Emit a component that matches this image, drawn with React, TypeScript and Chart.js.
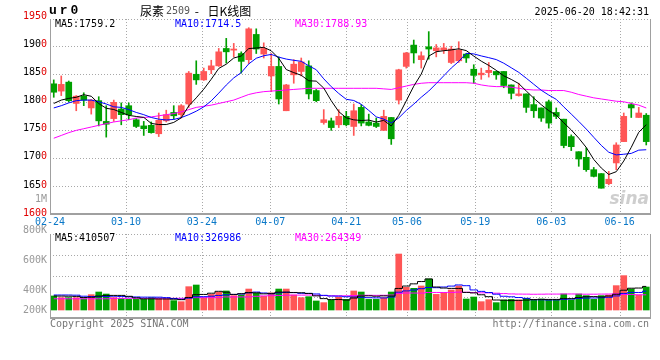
import React, { useEffect, useRef } from "react";
import { Chart, registerables } from "chart.js";

Chart.register(...registerables);

// ---------------- data ----------------
const dates = [
  "02-24","02-25","02-26","02-27","02-28",
  "03-03","03-04","03-05","03-06","03-07",
  "03-10","03-11","03-12","03-13","03-14",
  "03-17","03-18","03-19","03-20","03-21",
  "03-24","03-25","03-26","03-27","03-28",
  "03-31","04-01","04-02","04-03",
  "04-07","04-08","04-09","04-10","04-11",
  "04-14","04-15","04-16","04-17","04-18",
  "04-21","04-22","04-23","04-24","04-25",
  "04-28","04-29","04-30",
  "05-06","05-07","05-08","05-09",
  "05-12","05-13","05-14","05-15","05-16",
  "05-19","05-20","05-21","05-22","05-23",
  "05-26","05-27","05-28","05-29","05-30",
  "06-03","06-04","06-05","06-06",
  "06-09","06-10","06-11","06-12","06-13",
  "06-16","06-17","06-18","06-19","06-20",
];

const opens = [
  1832,1819,1835,1797,1810,1789,1802,1765,1770,1787,
  1793,1768,1757,1758,1743,1766,1781,1777,1796,1849,
  1839,1857,1864,1895,1892,1886,1875,1920,1885,1846,
  1863,1784,1848,1854,1864,1820,1763,1766,1759,1774,
  1756,1790,1764,1762,1749,1772,1803,1863,1901,1875,
  1898,1891,1892,1870,1873,1885,1858,1848,1852,1854,
  1854,1830,1811,1814,1795,1789,1800,1781,1769,1738,
  1711,1701,1679,1672,1654,1691,1729,1795,1772,1776,
];
const highs = [
  1839,1846,1837,1811,1816,1804,1809,1793,1803,1798,
  1798,1770,1765,1764,1780,1785,1793,1795,1854,1873,
  1860,1874,1895,1913,1904,1889,1932,1930,1905,1886,
  1880,1831,1875,1878,1873,1822,1786,1771,1786,1783,
  1796,1795,1778,1771,1785,1772,1858,1888,1910,1889,
  1925,1902,1904,1899,1907,1886,1866,1860,1870,1854,
  1854,1830,1833,1814,1809,1789,1803,1789,1769,1741,
  1711,1718,1683,1672,1676,1727,1780,1798,1790,1779,
];
const lows = [
  1808,1811,1800,1784,1793,1778,1757,1737,1765,1759,
  1768,1754,1740,1744,1738,1764,1769,1771,1790,1831,
  1838,1850,1863,1869,1880,1851,1868,1886,1878,1818,
  1796,1784,1833,1846,1805,1800,1760,1749,1754,1757,
  1740,1757,1757,1754,1749,1724,1796,1860,1869,1860,
  1876,1880,1886,1868,1870,1870,1833,1840,1844,1840,
  1825,1805,1810,1781,1772,1765,1753,1770,1718,1713,
  1685,1676,1666,1646,1652,1679,1729,1772,1772,1723,
];
const closes = [
  1817,1831,1802,1810,1803,1803,1766,1760,1799,1777,
  1777,1756,1752,1745,1767,1777,1775,1793,1851,1839,
  1854,1864,1889,1889,1894,1872,1930,1894,1895,1863,
  1805,1830,1867,1871,1814,1802,1768,1754,1774,1759,
  1784,1762,1758,1756,1774,1734,1857,1887,1887,1882,
  1894,1896,1896,1894,1892,1878,1847,1851,1856,1848,
  1829,1815,1814,1790,1784,1771,1762,1774,1722,1720,
  1698,1679,1667,1646,1662,1723,1774,1789,1780,1729,
];

const ma5 = [
  1797,1803,1806,1808,1812.6,1809.8,1796.8,1788.4,1786.2,1781,
  1775.8,1773.8,1772.2,1761.4,1759.4,1759.4,1763.2,1771.4,1792.6,1807,
  1822.4,1840.2,1859.4,1867,1878,1881.6,1894.8,1895.8,1897,1890.8,
  1877.4,1857.4,1852,1847.2,1837.4,1836.8,1824.4,1801.8,1782.4,1771.4,
  1767.8,1766.6,1767.4,1763.8,1766.8,1756.8,1775.8,1801.6,1827.8,1849.4,
  1881.4,1889.2,1891,1892.4,1894.4,1891.2,1881.4,1872.4,1864.8,1856,
  1846.2,1839.8,1832.4,1819.2,1806.4,1794.8,1784.2,1776.2,1762.6,1749.8,
  1735.2,1718.6,1697.2,1682,1670.4,1675.4,1694.4,1718.8,1745.6,1759.2,
];
const ma10 = [
  1789,1793,1798,1802,1803,1803,1800,1796,1791,1790,
  1786,1781,1777,1772,1769,1767.6,1768.5,1771.8,1777,1783.2,
  1790.9,1801.7,1815.4,1829.8,1842.5,1852,1867.5,1877.6,1882,1884.4,
  1879.5,1876.1,1873.9,1872.1,1864.1,1857.1,1840.9,1826.9,1814.8,1804.4,
  1802.3,1795.5,1784.6,1773.1,1769.1,1762.3,1771.2,1784.5,1795.8,1808.1,
  1819.1,1832.5,1846.3,1860.1,1871.9,1886.3,1885.3,1881.7,1878.6,1875.2,
  1868.7,1860.6,1852.4,1842,1831.2,1820.5,1812,1804.3,1790.9,1778.1,
  1765,1751.4,1736.7,1722.3,1710.1,1705.3,1706.5,1708,1713.8,1714.5,
];
const ma30 = [
  1735,1740,1745,1749,1752,1755,1758,1761,1764,1766,
  1768,1771,1772,1773,1775,1777,1779,1782,1786,1790,
  1792,1794,1797,1800,1803,1808,1813,1816,1818,1819,
  1820,1821,1822,1823,1824,1824,1824,1824,1824,1824,
  1824,1824,1824,1824,1823,1822,1825,1828,1831,1833,
  1834,1834,1834,1834,1834,1834,1833,1830,1828,1827,
  1827,1826,1824,1822,1821,1821,1820,1820,1820,1817,
  1813,1810,1807,1805,1803,1801,1800,1797,1794,1788.93,
];

const volumes = [
  244000,215000,215000,215000,197000,267000,313000,278000,215000,197000,
  185000,185000,185000,215000,191000,185000,163000,145000,406000,435000,
  203000,272000,307000,331000,250000,261000,365000,290000,238000,296000,
  365000,365000,261000,215000,232000,157000,128000,174000,220000,185000,
  331000,313000,185000,185000,215000,313000,974000,394000,377000,418000,
  539000,272000,302000,348000,418000,191000,226000,145000,180000,128000,
  174000,185000,174000,203000,174000,191000,174000,174000,278000,174000,
  278000,250000,185000,250000,261000,424000,598000,365000,261000,400000,
];
const volMa5 = [
  244000,242000,240000,237000,218000,222000,242000,254000,254000,254000,
  238000,212000,194000,194000,192000,192000,188000,180000,218000,267000,
  271000,292000,325000,310000,272000,284000,303000,299000,281000,290000,
  311000,311000,305000,300000,288000,246000,198000,181000,182000,173000,
  208000,244000,247000,240000,246000,243000,375000,417000,455000,495000,
  540000,400000,382000,376000,376000,306000,297000,265000,232000,174000,
  171000,163000,168000,173000,182000,185000,184000,184000,198000,198000,
  216000,231000,233000,227000,244000,274000,344000,379000,382000,410507,
];
const volMa10 = [
  261000,261000,261000,258000,240000,235000,232000,234000,240000,236000,
  230000,227000,224000,224000,223000,215000,200000,187000,206000,230000,
  232000,240000,253000,264000,270000,278000,298000,312000,296000,281000,
  298000,307000,302000,291000,289000,279000,255000,243000,241000,231000,
  227000,221000,214000,211000,210000,226000,310000,332000,348000,371000,
  392000,388000,400000,416000,436000,423000,349000,324000,304000,275000,
  239000,230000,217000,203000,178000,178000,174000,176000,186000,190000,
  201000,208000,209000,213000,221000,245000,288000,306000,305000,326986,
];
const volMa30 = [
  195000,195000,195000,195000,195000,195000,195000,195000,203000,203000,
  203000,203000,203000,203000,203000,203000,203000,203000,215000,215000,
  215000,215000,215000,228000,228000,228000,228000,238000,245000,249000,
  253000,258000,259000,259000,261000,257000,251000,247000,247000,247000,
  252000,256000,256000,255000,256000,260000,287000,296000,295000,294000,
  305000,305000,305000,306000,311000,309000,304000,299000,298000,292000,
  286000,280000,277000,276000,274000,275000,277000,277000,279000,279000,
  277000,275000,275000,277000,278000,282000,270000,269000,265000,264349,
];

const priceTicks = [1950, 1900, 1850, 1800, 1750, 1700, 1650, 1600];
const volTickLabels = ["1M", "800K", "600K", "400K", "200K"];
const xTickIndex = [0, 10, 20, 29, 39, 47, 56, 66, 75];

const titleCode = "ur0";
const titleName = "尿素";
const titleContract = "2509";
const titleKind = "日K线图";
const timestamp = "2025-06-20 18:42:31";
const priceMaLabels = ["MA5:1759.2", "MA10:1714.5", "MA30:1788.93"];
const volMaLabels = ["MA5:410507", "MA10:326986", "MA30:264349"];

// ---------------- layout / style ----------------
const W = 660;
const H = 360;
const PLOT_LEFT = 50;
const PLOT_RIGHT = 650;
const MAIN_TOP = 19;
const MAIN_BOTTOM = 214;
const VOL_TOP = 234;
const VOL_BOTTOM = 318;
const PRICE_LOW = 1600;
const PRICE_HIGH = 1947.5;
const VOL_ZERO_Y = 310;
const VOL_PER_PX = 17400;

const RED = "#ff5656";
const GREEN = "#00a000";
const MA_COLORS = ["#000000", "#0000ff", "#ff00ff"];
const GRID = "#a8a8a8";
const FRAME = "#a0a0a0";
const LABEL_RED = "#e00000";
const MONO = "10px 'DejaVu Sans Mono', monospace";

export default function App() {
  const ref = useRef<HTMLCanvasElement | null>(null);

  useEffect(() => {
    const canvas = ref.current;
    if (!canvas) return;
    const colors = closes.map((c, i) => (c >= opens[i] ? RED : GREEN));

    const pxPerPrice = (MAIN_BOTTOM - MAIN_TOP) / (PRICE_HIGH - PRICE_LOW);
    const yMin = PRICE_LOW - (VOL_BOTTOM - MAIN_BOTTOM) / pxPerPrice;
    const yvMax = (VOL_ZERO_Y - MAIN_TOP) * VOL_PER_PX;
    const yvMin = -(VOL_BOTTOM - VOL_ZERO_Y) * VOL_PER_PX;

    const hLine = (ctx: CanvasRenderingContext2D, x1: number, x2: number, y: number) => {
      const yy = Math.round(y) + 0.5;
      ctx.beginPath();
      ctx.moveTo(x1, yy);
      ctx.lineTo(x2, yy);
      ctx.stroke();
    };
    const vLine = (ctx: CanvasRenderingContext2D, x: number, y1: number, y2: number) => {
      const xx = Math.round(x) + 0.5;
      ctx.beginPath();
      ctx.moveTo(xx, y1);
      ctx.lineTo(xx, y2);
      ctx.stroke();
    };

    const decor = {
      id: "sinaDecor",
      beforeDatasetsDraw(chart: any) {
        const ctx: CanvasRenderingContext2D = chart.ctx;
        const xg = chart.scales.xg;
        const y = chart.scales.y;
        ctx.save();
        ctx.strokeStyle = GRID;
        ctx.lineWidth = 1;
        ctx.setLineDash([1, 2]);
        priceTicks.forEach((v) => {
          const py = y.getPixelForValue(v);
          if (py > MAIN_TOP + 2 && py < MAIN_BOTTOM - 2) hLine(ctx, PLOT_LEFT, PLOT_RIGHT, py);
        });
        hLine(ctx, PLOT_LEFT, PLOT_RIGHT, MAIN_TOP);
        hLine(ctx, PLOT_LEFT, PLOT_RIGHT, VOL_TOP);
        for (let k = 1; k < 4; k++) {
          hLine(ctx, PLOT_LEFT, PLOT_RIGHT, VOL_TOP + (k * (VOL_BOTTOM - VOL_TOP)) / 4);
        }
        xTickIndex.forEach((idx) => {
          if (idx === 0) return;
          const px = xg.getPixelForValue(idx);
          vLine(ctx, px, MAIN_TOP, MAIN_BOTTOM);
          vLine(ctx, px, VOL_TOP, VOL_BOTTOM);
        });
        ctx.restore();

        ctx.save();
        ctx.font = "italic bold 17px 'DejaVu Sans', sans-serif";
        ctx.fillStyle = "rgba(185,185,185,0.7)";
        ctx.textBaseline = "alphabetic";
        ctx.textAlign = "right";
        ctx.fillText("sina", PLOT_RIGHT - 1, MAIN_BOTTOM - 10);
        ctx.restore();
      },
      afterDatasetsDraw(chart: any) {
        const ctx: CanvasRenderingContext2D = chart.ctx;
        const xg = chart.scales.xg;
        const y = chart.scales.y;
        ctx.save();
        ctx.strokeStyle = FRAME;
        ctx.lineWidth = 1;
        ctx.setLineDash([]);
        vLine(ctx, PLOT_LEFT, MAIN_TOP, MAIN_BOTTOM + 1);
        vLine(ctx, PLOT_RIGHT, MAIN_TOP, MAIN_BOTTOM + 1);
        ctx.fillStyle = FRAME;
        ctx.fillRect(PLOT_LEFT, MAIN_BOTTOM - 1, PLOT_RIGHT - PLOT_LEFT + 1, 2);
        vLine(ctx, PLOT_LEFT, VOL_TOP, VOL_BOTTOM + 1);
        vLine(ctx, PLOT_RIGHT, VOL_TOP, VOL_BOTTOM + 1);
        ctx.fillRect(PLOT_LEFT, VOL_BOTTOM - 1, PLOT_RIGHT - PLOT_LEFT + 1, 2);

        ctx.font = MONO;
        ctx.textBaseline = "middle";

        ctx.textAlign = "right";
        const lx = PLOT_LEFT - 3;
        priceTicks.forEach((v, i) => {
          const t = String(v);
          const py = y.getPixelForValue(v) - 1;
          if (i === 0 || i === priceTicks.length - 1) {
            ctx.fillStyle = LABEL_RED;
            ctx.fillText(t, lx, py);
          } else {
            const lastW = ctx.measureText(t.slice(-1)).width;
            ctx.fillStyle = "#000000";
            ctx.fillText(t.slice(0, -1), lx - lastW, py);
            ctx.fillStyle = LABEL_RED;
            ctx.fillText(t.slice(-1), lx, py);
          }
        });
        const volLabelY = [VOL_TOP - 35, VOL_TOP - 4, VOL_TOP + 26, VOL_TOP + 56, VOL_TOP + 76];
        ctx.fillStyle = "#999999";
        volTickLabels.forEach((t, i) => ctx.fillText(t, lx, volLabelY[i]));

        ctx.textAlign = "center";
        ctx.fillStyle = "#0a78c8";
        xTickIndex.forEach((idx) => {
          ctx.fillText(dates[idx], xg.getPixelForValue(idx), MAIN_BOTTOM + 8);
        });

        ctx.textAlign = "left";
        const legendX = [PLOT_LEFT + 5, PLOT_LEFT + 125, PLOT_LEFT + 245];
        priceMaLabels.forEach((t, i) => {
          ctx.fillStyle = MA_COLORS[i];
          ctx.fillText(t, legendX[i], MAIN_TOP + 5);
        });
        volMaLabels.forEach((t, i) => {
          ctx.fillStyle = MA_COLORS[i];
          ctx.fillText(t, legendX[i], VOL_TOP + 4);
        });

        ctx.fillStyle = "#777777";
        ctx.fillText("Copyright 2025 SINA.COM", PLOT_LEFT, VOL_BOTTOM + 6);
        ctx.textAlign = "right";
        ctx.fillText("http://finance.sina.com.cn", PLOT_RIGHT - 1, VOL_BOTTOM + 6);

        ctx.fillStyle = "#000000";
        ctx.fillText(timestamp, PLOT_RIGHT - 1, 12);

        ctx.textAlign = "left";
        ctx.font = "bold 13px 'Liberation Mono', monospace";
        (ctx as any).letterSpacing = "3px";
        ctx.fillText(titleCode, PLOT_LEFT - 1, 11);
        (ctx as any).letterSpacing = "0px";

        let tx = 140;
        ctx.font = "12px 'Noto Sans CJK SC', sans-serif";
        ctx.fillStyle = "#000000";
        ctx.fillText(titleName, tx, 11);
        tx += ctx.measureText(titleName).width + 2;
        ctx.font = "10px 'DejaVu Sans Mono', monospace";
        ctx.fillStyle = "#555555";
        ctx.fillText(titleContract, tx, 11);
        tx += ctx.measureText(titleContract).width;
        ctx.font = "12px 'Noto Sans CJK SC', sans-serif";
        ctx.fillStyle = "#000000";
        ctx.fillText(" - ", tx + 2, 11);
        tx += ctx.measureText(" - ").width + 8;
        ctx.fillText(titleKind, tx, 11);
        ctx.restore();
      },
    };

    const lineDs = (data: number[], color: string, axis: string, stepped: boolean) => ({
      type: "line",
      data,
      borderColor: color,
      borderWidth: 1,
      pointRadius: 0,
      tension: 0,
      stepped: stepped ? "middle" : false,
      yAxisID: axis,
      order: 0,
    });

    const chart = new Chart(canvas, {
      type: "bar",
      data: {
        labels: dates,
        datasets: [
          lineDs(ma5, MA_COLORS[0], "y", false),
          lineDs(ma10, MA_COLORS[1], "y", false),
          lineDs(ma30, MA_COLORS[2], "y", false),
          lineDs(volMa5, MA_COLORS[0], "yv", true),
          lineDs(volMa10, MA_COLORS[1], "yv", true),
          lineDs(volMa30, MA_COLORS[2], "yv", true),
          {
            type: "bar",
            data: opens.map((o, i) => [o, closes[i]]),
            backgroundColor: colors,
            borderWidth: 0,
            barThickness: 6,
            grouped: false,
            minBarLength: 1,
            yAxisID: "y",
            order: 1,
          },
          {
            type: "bar",
            data: lows.map((l, i) => [l, highs[i]]),
            backgroundColor: colors,
            borderWidth: 0,
            barThickness: 1,
            grouped: false,
            yAxisID: "y",
            order: 2,
          },
          {
            type: "bar",
            data: volumes,
            backgroundColor: colors,
            borderWidth: 0,
            barThickness: 6,
            grouped: false,
            yAxisID: "yv",
            order: 1,
          },
        ] as any,
      },
      options: {
        responsive: false,
        animation: false,
        devicePixelRatio: 1,
        events: [],
        layout: {
          padding: { left: PLOT_LEFT, right: W - PLOT_RIGHT, top: MAIN_TOP, bottom: H - VOL_BOTTOM },
        },
        plugins: { legend: { display: false }, tooltip: { enabled: false } },
        scales: {
          x: { type: "category", display: false, offset: true },
          xg: {
            type: "linear",
            display: false,
            offset: false,
            grace: 0,
            bounds: "ticks",
            min: 0,
            max: dates.length - 1,
          },
          y: { type: "linear", display: false, beginAtZero: false, min: yMin, max: PRICE_HIGH },
          yv: { type: "linear", display: false, beginAtZero: false, min: yvMin, max: yvMax },
        },
      } as any,
      plugins: [decor],
    });
    return () => chart.destroy();
  }, []);

  return (
    <canvas
      ref={ref}
      width={W}
      height={H}
      style={{ position: "absolute", left: 0, top: 0, width: W, height: H }}
    />
  );
}
